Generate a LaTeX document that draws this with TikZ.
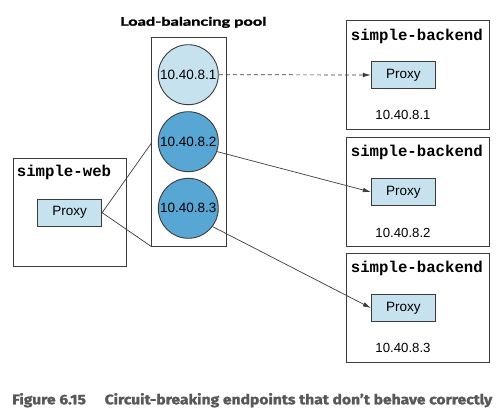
\documentclass[tikz,border=0pt]{standalone}
\usepackage{fontspec}
\setmainfont{Liberation Sans}
\newfontfamily\monofont{Liberation Mono}
\newfontfamily\titlefont[BoldFeatures={FakeBold=1.6}]{Lato}
\newfontfamily\capfont[BoldFeatures={FakeBold=1.4}]{Fira Sans}
\usetikzlibrary{arrows.meta}
\definecolor{lightblue}{RGB}{197,226,238}
\definecolor{midblue}{RGB}{88,166,212}
\definecolor{edge}{RGB}{60,60,60}
\definecolor{capgray}{RGB}{88,88,88}
\begin{document}
\begin{tikzpicture}[x=1pt,y=-1pt,
 box/.style={draw=edge, line width=0.9pt, inner sep=0pt, fill=white},
 proxybox/.style={draw=edge, line width=0.9pt, fill=lightblue, minimum width=64pt, minimum height=26.5pt, inner sep=0pt, font=\fontsize{13.5}{15}\selectfont},
 ipcircle/.style={circle, draw=edge, line width=0.9pt, minimum size=60pt, inner sep=0pt, font=\fontsize{13.5}{15}\selectfont},
 monolabel/.style={anchor=base west, inner sep=0pt, font=\fontsize{15.7}{18}\monofont\bfseries},
 iplabel/.style={inner sep=0pt, font=\fontsize{13.2}{15}\selectfont},
 conn/.style={draw=edge, line width=0.7pt},
 arr/.style={conn, -{Latex[length=8pt,width=4.5pt]}},
]
\useasboundingbox (0,0) rectangle (496,415);

% title
\node[anchor=base west, inner sep=0pt] (title) at (120,25.7)
  {\resizebox{146pt}{8.8pt}{\titlefont\bfseries Load-balancing pool}};

% simple-web
\node[box, minimum width=112.7pt, minimum height=108.4pt] (web) at (69.65,212.5) {};
\node[monolabel] (weblabel) at (16.7,176.7) {simple-web};
\node[proxybox] (webproxy) at (69.7,212.7) {Proxy};

% pool
\node[box, minimum width=74.3pt, minimum height=208.7pt] (pool) at (188.85,141.65) {};
\node[ipcircle, fill=lightblue] (c1) at (188.3,74.7) {10.40.8.1};
\node[ipcircle, fill=midblue] (c2) at (188.3,141.7) {10.40.8.2};
\node[ipcircle, fill=midblue] (c3) at (188.3,208.3) {10.40.8.3};

% backends
\node[box, minimum width=142.6pt, minimum height=108.3pt] (b1) at (418,74.85) {};
\node[monolabel] (b1label) at (350.7,40.5) {simple-backend};
\node[proxybox] (p1) at (403.3,75) {Proxy};
\node[iplabel] (ip1) at (403,115) {10.40.8.1};

\node[box, minimum width=142.6pt, minimum height=109pt] (b2) at (418,191.7) {};
\node[monolabel] (b2label) at (350.7,156.4) {simple-backend};
\node[proxybox] (p2) at (403.3,192) {Proxy};
\node[iplabel] (ip2) at (403,232.5) {10.40.8.2};

\node[box, minimum width=142.6pt, minimum height=109pt] (b3) at (418,307.8) {};
\node[monolabel] (b3label) at (350.7,272.5) {simple-backend};
\node[proxybox] (p3) at (403.3,308) {Proxy};
\node[iplabel] (ip3) at (403,347.5) {10.40.8.3};

% connectors
\draw[conn] (webproxy.east) -- (pool.west |- 0,143.3);
\draw[conn] (webproxy.east) -- (pool.south west);
\draw[arr, dashed, dash pattern=on 4pt off 3pt] (c1.east) -- (p1.west);
\draw[arr] (c2.-19) -- (p2.west);
\draw[arr] (c3.-37) -- (p3.west);

% caption
\node[anchor=base west, inner sep=0pt, text=capgray] (caption) at (12,404.3)
  {\resizebox{480pt}{11.2pt}{\capfont\bfseries Figure 6.15\hspace{1.2em}Circuit-breaking endpoints that don’t behave correctly}};
\end{tikzpicture}
\end{document}
